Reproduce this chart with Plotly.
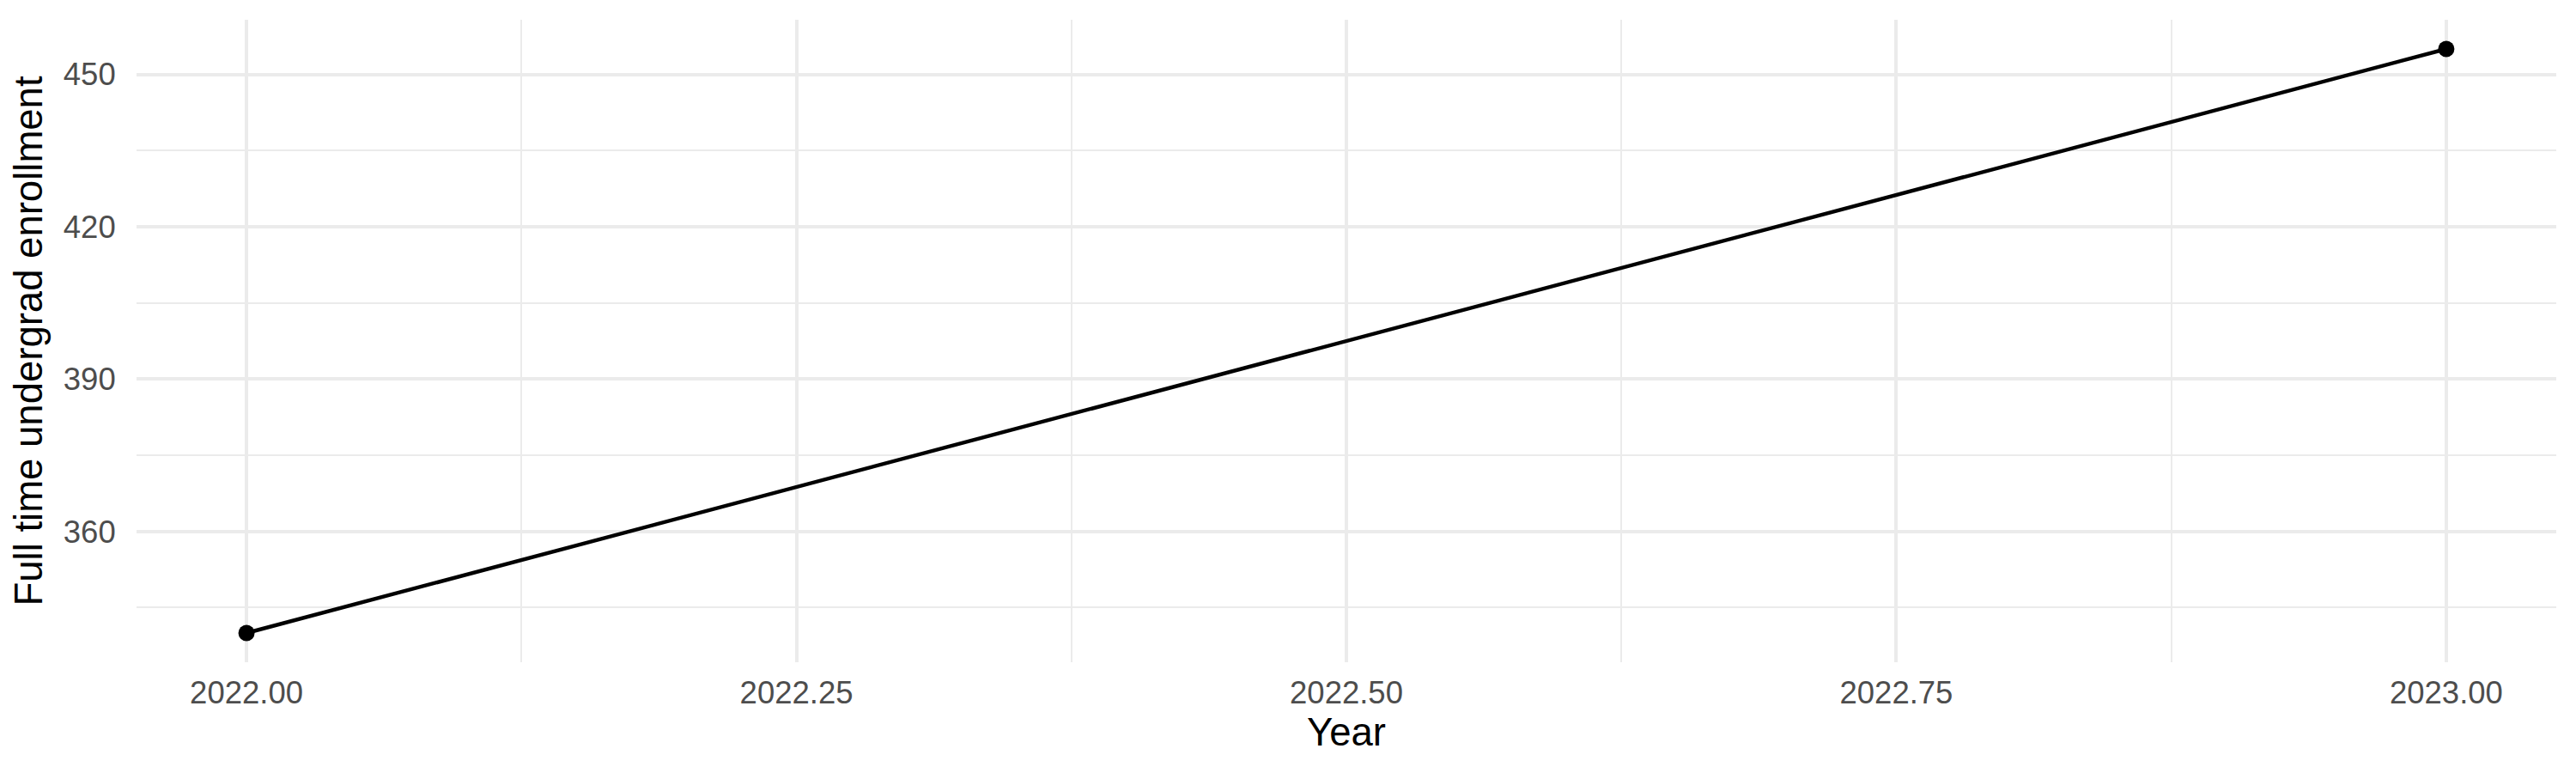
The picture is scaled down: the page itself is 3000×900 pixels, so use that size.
import plotly.graph_objects as go

years = [2022, 2023]
enrollment = [340, 455]

x_ticks = [2022.00, 2022.25, 2022.50, 2022.75, 2023.00]
y_ticks = [360, 390, 420, 450]

grid = "#EBEBEB"
tick_font = dict(family="Liberation Sans, Arial, sans-serif", size=36.5, color="#4D4D4D")
title_font = dict(family="Liberation Sans, Arial, sans-serif", size=45.5, color="black")

fig = go.Figure()
fig.add_trace(go.Scatter(
    x=years, y=enrollment, mode="lines+markers",
    line=dict(color="black", width=4.4),
    marker=dict(color="black", size=19),
    showlegend=False,
))

# page body has an 8px margin, so the figure is shrunk a little to fit
fig.update_layout(
    width=2992, height=892,
    margin=dict(l=151, r=23, t=15, b=129),
    plot_bgcolor="white", paper_bgcolor="white",
    xaxis=dict(
        range=[2021.95, 2023.05],
        tickvals=x_ticks, tickformat=".2f",
        showgrid=True, gridcolor=grid, gridwidth=4,
        minor=dict(dtick=0.125, tick0=2022.125, showgrid=True, gridcolor=grid, gridwidth=2),
        zeroline=False, showline=False,
        ticks="outside", ticklen=3, tickcolor="rgba(0,0,0,0)",
        tickfont=tick_font,
        title=dict(text="Year", font=title_font, standoff=7),
    ),
    yaxis=dict(
        range=[334.25, 460.75],
        tickvals=y_ticks,
        showgrid=True, gridcolor=grid, gridwidth=4,
        minor=dict(dtick=30, tick0=345, showgrid=True, gridcolor=grid, gridwidth=2),
        zeroline=False, showline=False,
        ticks="outside", ticklen=16, tickcolor="rgba(0,0,0,0)",
        tickfont=tick_font,
        title=dict(text="Full time undergrad enrollment", font=title_font, standoff=10),
    ),
)

fig.write_html("out.html")
